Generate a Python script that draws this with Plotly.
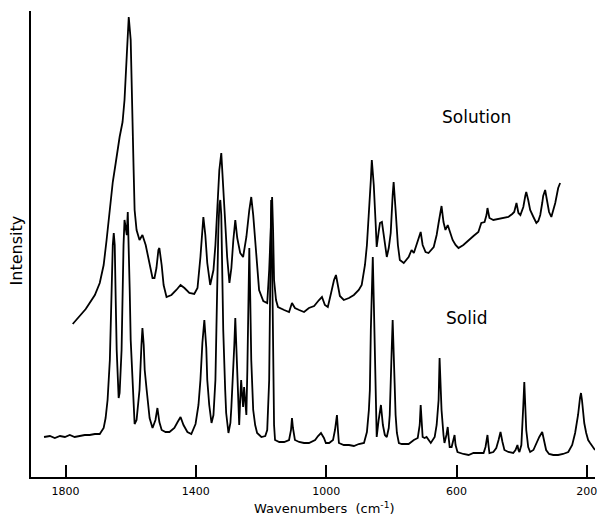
import plotly.graph_objects as go

# Raman spectra: wavenumber (cm-1) and relative intensity
solution_wn = [1778, 1765, 1753, 1738, 1726, 1710, 1695, 1683, 1674, 1664, 1655, 1646, 1640, 1634,
               1625, 1619, 1612, 1606, 1600, 1594, 1591, 1588, 1582, 1573, 1564, 1554, 1542, 1533,
               1527, 1521, 1515, 1512, 1505, 1499, 1490, 1475, 1460, 1447, 1435, 1420, 1405, 1395,
               1386, 1377, 1371, 1365, 1356, 1346, 1340, 1334, 1328, 1322, 1316, 1310, 1304, 1297,
               1291, 1285, 1279, 1273, 1264, 1255, 1245, 1236, 1230, 1224, 1218, 1212, 1206, 1193,
               1181, 1175, 1169, 1166, 1163, 1160, 1154, 1148, 1129, 1114, 1105, 1096, 1083, 1068,
               1053, 1037, 1022, 1013, 1004, 995, 985, 976, 970, 964, 958, 946, 930, 915, 900, 891,
               881, 875, 869, 863, 860, 854, 848, 845, 839, 835, 829, 823, 814, 808, 802, 796, 793,
               787, 780, 774, 762, 747, 738, 731, 722, 716, 710, 704, 695, 686, 670, 661, 655, 649,
               646, 640, 634, 627, 621, 612, 603, 594, 579, 563, 548, 533, 524, 514, 508, 505, 499,
               487, 471, 456, 441, 429, 423, 416, 410, 404, 395, 389, 386, 380, 374, 364, 355, 349,
               343, 337, 334, 328, 322, 316, 309, 303, 297, 291, 288, 282]
solution_int = [153, 158, 162, 168, 174, 182, 194, 212, 237, 267, 295, 314, 330, 340,
                355, 377, 422, 460, 437, 367, 307, 267, 247, 237, 242, 232, 215, 199,
                199, 209, 227, 229, 212, 192, 180, 182, 187, 192, 189, 184, 183, 189,
                220, 260, 242, 214, 192, 207, 232, 270, 307, 324, 287, 247, 220, 194,
                209, 237, 257, 239, 224, 220, 240, 267, 280, 262, 237, 209, 187, 176,
                174, 207, 262, 280, 247, 197, 177, 170, 167, 165, 174, 169, 167, 165,
                169, 171, 177, 180, 172, 170, 184, 197, 202, 192, 181, 177, 179, 182, 187, 192,
                212, 232, 260, 297, 317, 292, 252, 230, 245, 254, 255, 242, 220, 229, 244, 282, 295,
                267, 232, 217, 214, 220, 227, 224, 232, 239, 245, 232, 225, 224, 230, 242, 254, 269,
                271, 255, 247, 252, 245, 237, 232, 229, 232, 237, 241, 245, 254, 255, 262, 269, 259,
                257, 258, 259, 260, 263, 265, 274, 264, 262, 270, 281, 285, 277, 267, 260, 254, 256,
                262, 274, 281, 287, 277, 265, 260, 267, 274, 284, 289, 294]

solid_wn = [1866, 1848, 1833, 1817, 1802, 1787, 1772, 1756, 1741, 1726, 1710, 1695, 1683, 1677,
            1671, 1664, 1661, 1658, 1655, 1652, 1649, 1646, 1643, 1637, 1634, 1628, 1625, 1622,
            1619, 1616, 1612, 1609, 1606, 1603, 1600, 1594, 1588, 1582, 1573, 1567, 1564, 1560,
            1557, 1551, 1542, 1533, 1524, 1518, 1512, 1505, 1493, 1481, 1466, 1456, 1447, 1438,
            1426, 1414, 1401, 1392, 1386, 1380, 1374, 1368, 1365, 1359, 1352, 1346, 1340, 1337,
            1334, 1331, 1328, 1325, 1322, 1319, 1316, 1310, 1307, 1300, 1294, 1291, 1285, 1282,
            1279, 1276, 1273, 1270, 1267, 1264, 1261, 1258, 1255, 1252, 1248, 1245, 1242, 1239,
            1236, 1233, 1230, 1224, 1218, 1212, 1199, 1187, 1181, 1175, 1172, 1169, 1166, 1163,
            1160, 1157, 1144, 1129, 1114, 1108, 1105, 1102, 1096, 1083, 1068, 1053, 1034, 1025,
            1016, 1007, 1001, 991, 979, 973, 967, 964, 961, 946, 930, 915, 900, 884, 875, 869,
            866, 863, 860, 857, 854, 851, 848, 845, 839, 832, 826, 820, 814, 808, 805, 802, 799,
            796, 793, 790, 787, 783, 777, 768, 747, 731, 719, 713, 710, 707, 704, 698, 692, 679,
            667, 661, 655, 652, 649, 646, 640, 637, 631, 627, 624, 621, 615, 609, 606, 603, 597,
            579, 563, 548, 533, 517, 511, 505, 502, 499, 487, 478, 471, 465, 459, 453, 441, 426,
            419, 413, 410, 407, 401, 398, 395, 392, 389, 386, 380, 374, 364, 355, 346, 337, 331,
            325, 316, 303, 288, 273, 257, 245, 236, 227, 221, 218, 215, 208, 202, 196, 190, 181,
            175]
solid_int = [40, 41, 39, 41, 40, 42, 40, 41, 42, 42, 43, 43, 49, 59,
             77, 117, 157, 197, 232, 244, 232, 177, 127, 79, 84, 127, 187, 232,
             257, 252, 242, 265, 232, 187, 137, 94, 53, 57, 87, 132, 149, 132,
             107, 87, 59, 49, 57, 69, 55, 47, 45, 45, 49, 55, 60, 52,
             45, 43, 53, 72, 97, 134, 157, 129, 97, 72, 54, 62, 97, 147,
             204, 247, 272, 277, 262, 207, 147, 87, 64, 44, 54, 70, 107, 132,
             159, 132, 97, 67, 52, 77, 97, 82, 70, 90, 77, 62, 107, 160,
             229, 177, 117, 67, 52, 44, 40, 41, 47, 97, 197, 277, 217, 97,
             52, 37, 35, 35, 37, 47, 59, 49, 37, 35, 34, 34, 37, 41,
             44, 39, 34, 34, 37, 47, 62, 47, 34, 32, 32, 31, 33, 34, 45, 67,
             87, 147, 197, 220, 177, 127, 67, 40, 57, 72, 52, 42, 40, 49, 62, 87, 127,
             157, 132, 94, 62, 44, 34, 33, 33, 37, 39, 52, 72, 52, 40, 39, 40, 34,
             40, 52, 77, 119, 92, 67, 42, 34, 42, 50, 39, 30, 30, 37, 42, 32, 25,
             23, 22, 24, 24, 24, 30, 42, 32, 24, 25, 29, 37, 45, 35, 27, 25, 24,
             27, 32, 27, 25, 32, 47, 72, 95, 72, 47, 30, 25, 27, 34, 40, 45, 37,
             27, 23, 22, 22, 23, 25, 32, 44, 62, 79, 84, 77, 54, 44, 37, 34, 29,
             27]

x_ticks = [1800, 1400, 1000, 600, 200]
x_range = [1906, 175]
y_range = [0, 466]

FONT = "DejaVu Sans"
line_style = dict(color="black", width=1.8)

fig = go.Figure()
fig.add_trace(go.Scatter(x=solution_wn, y=solution_int, mode="lines",
                         line=line_style, name="Solution", showlegend=False))
fig.add_trace(go.Scatter(x=solid_wn, y=solid_int, mode="lines",
                         line=line_style, name="Solid", showlegend=False))

fig.update_layout(
    width=597, height=520,
    margin=dict(l=31, r=0, t=11, b=43),
    paper_bgcolor="white", plot_bgcolor="white",
    font=dict(family=FONT, color="black", size=13),
    xaxis=dict(range=x_range, tickvals=x_ticks, ticktext=[str(v) for v in x_ticks],
               ticks="inside", ticklen=12, tickwidth=2, tickcolor="black",
               showline=True, linecolor="black", linewidth=2,
               showgrid=False, zeroline=False, ticklabelstandoff=3,
               ticklabeloverflow="allow", tickfont=dict(size=11)),
    yaxis=dict(range=y_range, showticklabels=False, ticks="",
               showline=True, linecolor="black", linewidth=2,
               showgrid=False, zeroline=False),
    annotations=[
        dict(text="Wavenumbers  (cm<sup>-1</sup>)", xref="paper", yref="paper",
             x=0.521, y=-0.066, xanchor="center", yanchor="middle",
             showarrow=False, font=dict(size=13)),
        dict(text="Intensity", xref="paper", yref="paper", x=-0.026, y=0.487,
             xanchor="center", yanchor="middle", textangle=-90,
             showarrow=False, font=dict(size=16)),
        dict(text="Solution", x=540, y=360, xanchor="center", yanchor="middle",
             showarrow=False, font=dict(size=17)),
        dict(text="Solid", x=568, y=159, xanchor="center", yanchor="middle",
             showarrow=False, font=dict(size=17)),
    ],
)

fig.write_html("out.html")
